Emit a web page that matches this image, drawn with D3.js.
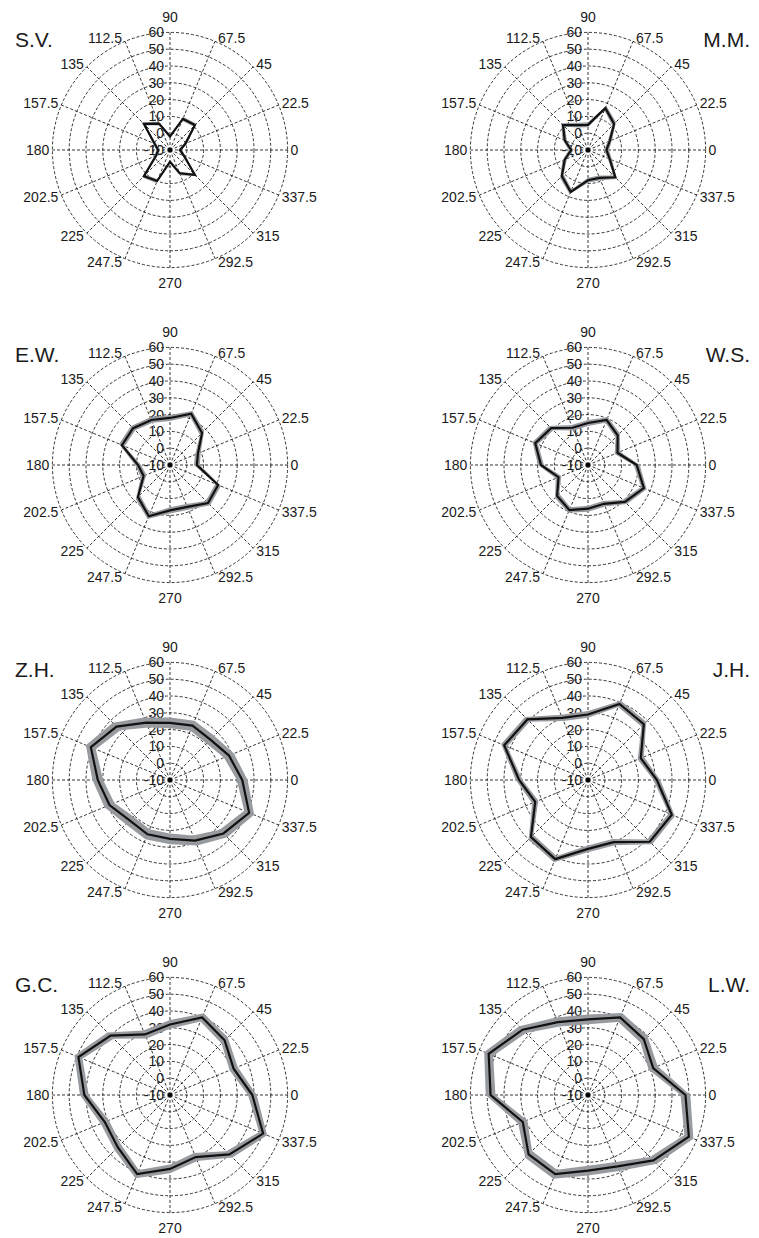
<!DOCTYPE html>
<html>
<head>
<meta charset="utf-8">
<script src="https://cdn.jsdelivr.net/npm/d3@7"></script>
<style>
  body { margin: 0; background: #fff; }
  text { font-family: "Liberation Sans", Arial, sans-serif; fill: #1a1a1a; }
</style>
</head>
<body>
<div id="chart"></div>
<script>
// directions (deg) and radial ticks
const angles = [0, 22.5, 45, 67.5, 90, 112.5, 135, 157.5, 180, 202.5, 225, 247.5, 270, 292.5, 315, 337.5];
const angleLabels = ["0", "22.5", "45", "67.5", "90", "112.5", "135", "157.5", "180", "202.5", "225", "247.5", "270", "292.5", "315", "337.5"];
const ringTicks = [60, 50, 40, 30, 20, 10, 0, -10];

const subjects = ["S.V.", "M.M.", "E.W.", "W.S.", "Z.H.", "J.H.", "G.C.", "L.W."];

// one value per direction, same order as angles
const sv = [-4, 0, 11, 10, -2, 7, 12, 0, -3, -1, 12, 10, -3, 5, 11, -1];
const mm = [1, 4, 12, 17, 5, 6, 11, 5, 0, 5, 12, 17, 8, 8, 13, 4];
const ew = [6, 8, 17, 23, 18, 19, 21, 21, 9, 7, 17, 23, 17, 17, 22, 21];
const ws = [19, 9, 15, 19, 15, 14, 21, 24, 18, 9, 16, 19, 16, 15, 21, 26];
const zh = [33, 28, 24, 25, 24, 27, 35, 41, 33, 29, 24, 25, 25, 29, 35, 41];
const jh = [31, 24, 37, 39, 29, 30, 41, 44, 31, 24, 38, 41, 31, 30, 42, 44];
const gc = [39, 31, 36, 40, 32, 29, 40, 49, 41, 32, 34, 41, 34, 30, 40, 50];
const lw = [48, 32, 37, 40, 35, 37, 45, 54, 48, 32, 40, 41, 35, 36, 45, 55];

// half width of the grey band around each curve
const bandHalf = [1.2, 1.5, 1.8, 1.8, 3.2, 2.0, 2.6, 2.9];

const series = [sv, mm, ew, ws, zh, jh, gc, lw];

const width = 759, height = 1238;
const R = 117.6;
const colX = [170, 588];
const rowY = 150, rowStep = 315;

const svg = d3.select("#chart").append("svg")
  .attr("width", width)
  .attr("height", height);

const r = d3.scaleLinear().domain([-10, 60]).range([0, R]).clamp(true);
const rad = a => (90 - a) * Math.PI / 180;   // d3 radial angle (clockwise from top)

const line = d3.lineRadial()
  .angle((d, j) => rad(angles[j]))
  .radius(d => r(d))
  .curve(d3.curveLinearClosed);

subjects.forEach((name, i) => {
  const col = i % 2, row = Math.floor(i / 2);
  const g = svg.append("g")
    .attr("transform", `translate(${colX[col]},${rowY + rowStep * row})`);

  // rings
  g.append("g").selectAll("circle")
    .data(ringTicks.filter(v => v > -10))
    .join("circle")
    .attr("r", d => r(d))
    .attr("fill", "none")
    .attr("stroke", "#111")
    .attr("stroke-width", 0.85)
    .attr("stroke-dasharray", "3,2");

  // spokes
  g.append("g").selectAll("line")
    .data(angles)
    .join("line")
    .attr("x1", 0).attr("y1", 0)
    .attr("x2", d => R * Math.cos(d * Math.PI / 180))
    .attr("y2", d => -R * Math.sin(d * Math.PI / 180))
    .attr("stroke", "#111")
    .attr("stroke-width", 0.85)
    .attr("stroke-dasharray", "3,2");

  g.append("circle").attr("r", 2).attr("fill", "#000");

  // radial tick labels
  g.append("g").selectAll("text")
    .data(ringTicks)
    .join("text")
    .attr("x", -6)
    .attr("y", d => -r(d))
    .attr("text-anchor", "end")
    .attr("dominant-baseline", "central")
    .style("font-size", "14px")
    .text(d => d);

  // angle labels
  g.append("g").selectAll("text")
    .data(angles)
    .join("text")
    .each(function(d, j) {
      const c = Math.cos(d * Math.PI / 180), s = Math.sin(d * Math.PI / 180);
      const t = d3.select(this);
      if (Math.abs(c) < 0.01) {
        t.attr("x", 0).attr("y", -s * (R + 15)).attr("text-anchor", "middle");
      } else {
        t.attr("x", c * R + (c > 0 ? 3 : -3))
          .attr("y", -s * R - 4 * s)
          .attr("text-anchor", c > 0 ? "start" : "end");
      }
      t.text(angleLabels[j]);
    })
    .attr("dominant-baseline", "central")
    .style("font-size", "14px");

  // grey band
  const h = bandHalf[i];
  const band = d3.areaRadial()
    .angle((d, j) => rad(angles[j]))
    .innerRadius(d => r(d - h))
    .outerRadius(d => r(d + h))
    .curve(d3.curveLinearClosed);

  g.append("path")
    .datum(series[i])
    .attr("d", band)
    .attr("fill", "#979ba0")
    .attr("fill-rule", "evenodd");

  g.append("path")
    .datum(series[i])
    .attr("d", line)
    .attr("fill", "none")
    .attr("stroke", "#111")
    .attr("stroke-width", 2.2);

  // subject name
  g.append("text")
    .attr("x", col === 0 ? 15 - colX[0] : 750 - colX[1])
    .attr("y", -103)
    .attr("text-anchor", col === 0 ? "start" : "end")
    .style("font-size", "21px")
    .text(name);
});
</script>
</body>
</html>
